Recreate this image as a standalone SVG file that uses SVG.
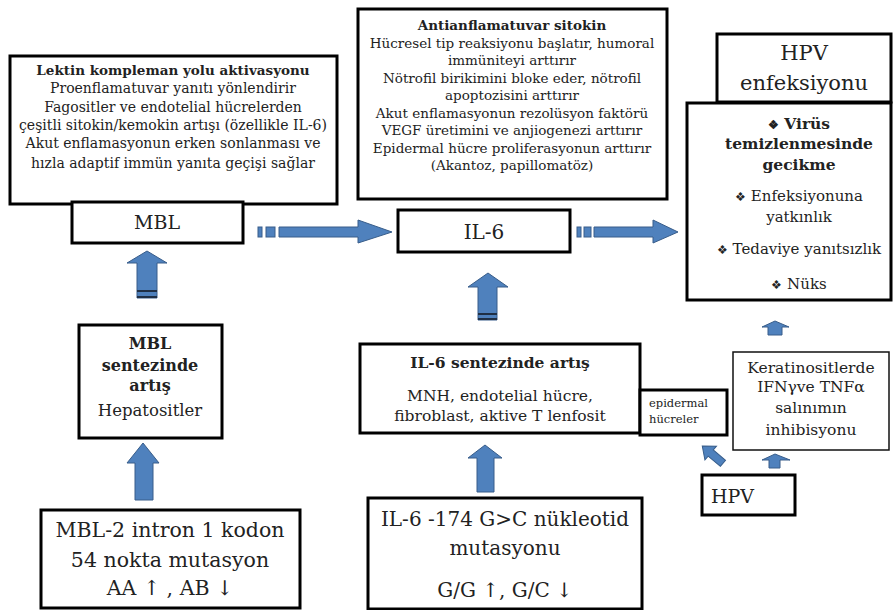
<svg xmlns="http://www.w3.org/2000/svg" width="894" height="610" viewBox="0 0 894 610" font-family="'DejaVu Serif', 'Liberation Serif', serif">
<style>
text{text-anchor:middle;fill:#222}
.b{font-weight:bold}
.box{fill:#fff;stroke:#000;stroke-width:3}
.thin{fill:#fff;stroke:#111;stroke-width:1.5}
.ar{fill:#4F81BD;stroke:#385D8A;stroke-width:1}
.st{stroke:#1f2f45;stroke-width:2}
</style>
<rect width="894" height="610" fill="#fff"/>
<g id="lektin">
<rect class="box" x="10" y="56" width="327" height="148"/>
<text x="173" y="75" font-size="13.5" class="b">Lektin kompleman yolu aktivasyonu</text>
<text x="173" y="93" font-size="14">Proenflamatuvar yanıtı yönlendirir</text>
<text x="173" y="112" font-size="14">Fagositler ve endotelial hücrelerden</text>
<text x="173" y="130" font-size="14">çeşitli sitokin/kemokin artışı (özellikle IL-6)</text>
<text x="173" y="148" font-size="14">Akut enflamasyonun erken sonlanması ve</text>
<text x="173" y="168" font-size="14">hızla adaptif immün yanıta geçişi sağlar</text>
</g>
<g id="mbl">
<rect class="box" x="72" y="202" width="171" height="41"/>
<text x="157" y="229" font-size="19">MBL</text>
</g>
<g id="anti">
<rect class="box" x="358" y="9" width="309" height="190"/>
<text x="512" y="30" font-size="13.5" class="b">Antianflamatuvar sitokin</text>
<text x="512" y="48" font-size="13.5">Hücresel tip reaksiyonu başlatır, humoral</text>
<text x="512" y="65" font-size="13.5">immüniteyi arttırır</text>
<text x="512" y="83" font-size="13.5">Nötrofil birikimini bloke eder, nötrofil</text>
<text x="512" y="100" font-size="13.5">apoptozisini arttırır</text>
<text x="512" y="118" font-size="13.5">Akut enflamasyonun rezolüsyon faktörü</text>
<text x="512" y="135" font-size="13.5">VEGF üretimini ve anjiogenezi arttırır</text>
<text x="512" y="153" font-size="13.5">Epidermal hücre proliferasyonun arttırır</text>
<text x="512" y="170" font-size="13.5">(Akantoz, papillomatöz)</text>
</g>
<g id="il6">
<rect class="box" x="398" y="210" width="172" height="42"/>
<text x="484" y="239" font-size="20">IL-6</text>
</g>
<g id="hpvenf">
<rect class="box" x="717" y="34" width="174" height="68"/>
<text x="804" y="60" font-size="21">HPV</text>
<text x="804" y="90" font-size="21">enfeksiyonu</text>
</g>
<g id="sonuc">
<rect class="box" x="687" y="103" width="204" height="197"/>
<text x="799" y="129" font-size="15.5" class="b"><tspan font-size="12">❖</tspan> Virüs</text>
<text x="799" y="149" font-size="15.5" class="b">temizlenmesinde</text>
<text x="799" y="170" font-size="15.5" class="b">gecikme</text>
<text x="799" y="201" font-size="15"><tspan font-size="12">❖</tspan> Enfeksiyonuna</text>
<text x="799" y="222" font-size="15">yatkınlık</text>
<text x="799" y="254" font-size="15"><tspan font-size="12">❖</tspan> Tedaviye yanıtsızlık</text>
<text x="799" y="289" font-size="15"><tspan font-size="12">❖</tspan> Nüks</text>
</g>
<g id="mblsentez">
<rect class="box" x="79" y="325" width="143" height="113"/>
<text x="150" y="349" font-size="16" class="b">MBL</text>
<text x="150" y="371" font-size="16" class="b">sentezinde</text>
<text x="150" y="391" font-size="16" class="b">artış</text>
<text x="150" y="416" font-size="16.5">Hepatositler</text>
</g>
<g id="mbl2">
<rect class="box" x="41" y="510" width="259" height="98"/>
<text x="170" y="537" font-size="20.5">MBL-2 intron 1 kodon</text>
<text x="170" y="567" font-size="20.5">54 nokta mutasyon</text>
<text x="170" y="595" font-size="20.5">AA ↑ , AB ↓</text>
</g>
<g id="il6sentez">
<rect class="box" x="360" y="344" width="280" height="89"/>
<text x="500" y="368" font-size="15.5" class="b">IL-6 sentezinde artış</text>
<text x="500" y="401" font-size="15.5">MNH,  endotelial hücre,</text>
<text x="500" y="421" font-size="15.5">fibroblast, aktive T lenfosit</text>
</g>
<g id="epidermal">
<rect class="box" x="640" y="390" width="87" height="45"/>
<text x="649" y="407" font-size="11.5" style="text-anchor:start">epidermal</text>
<text x="649" y="423" font-size="11.5" style="text-anchor:start">hücreler</text>
</g>
<g id="il6mut">
<rect class="box" x="368" y="498" width="274" height="111"/>
<text x="505" y="526" font-size="20">IL-6 -174 G&gt;C nükleotid</text>
<text x="505" y="555" font-size="20">mutasyonu</text>
<text x="505" y="597" font-size="20">G/G ↑, G/C ↓</text>
</g>
<g id="kerat">
<rect class="thin" x="733" y="352" width="156" height="98"/>
<text x="811" y="373" font-size="15.5">Keratinositlerde</text>
<text x="811" y="392" font-size="15.5">IFNγve TNFα</text>
<text x="811" y="413" font-size="15.5">salınımın</text>
<text x="811" y="435" font-size="15.5">inhibisyonu</text>
</g>
<g id="hpv">
<rect class="box" x="702" y="475" width="93" height="40" stroke-width="4"/>
<text x="711" y="503" font-size="19" style="text-anchor:start">HPV</text>
</g>
<g id="connectors">
<rect class="ar" x="258" y="227" width="4" height="10"/>
<rect class="ar" x="266" y="227" width="9" height="10"/>
<polygon class="ar" points="279,227 358,227 358,220 392,232 358,243 358,237 279,237"/>
<rect class="ar" x="577" y="227" width="4" height="10"/>
<rect class="ar" x="584" y="227" width="7" height="10"/>
<polygon class="ar" points="594,227 653,227 653,220 678,232 653,243 653,237 594,237"/>
<polygon class="ar" points="147,251 167,263 157,263 157,298 137,298 137,263 127,263"/>
<line class="st" x1="137" y1="291" x2="157" y2="291"/>
<line class="st" x1="137" y1="297" x2="157" y2="297"/>
<polygon class="ar" points="143,443 159,463 153,463 153,500 135,500 135,463 127,463"/>
<polygon class="ar" points="488,273 508,287 497,287 497,320 478,320 478,287 468,287"/>
<line class="st" x1="478" y1="314" x2="497" y2="314"/>
<line class="st" x1="478" y1="319" x2="497" y2="319"/>
<polygon class="ar" points="485,445 502,458 494,458 494,492 477,492 477,458 468,458"/>
<polygon class="ar" points="775,321 789,327 782,327 782,335 768,335 768,327 762,327"/>
<polygon class="ar" points="775,454 790,460 780,460 780,468 769,468 769,460 762,460"/>
<polygon class="ar" points="0,-14 9,-3 4,-3 4,13 -4,13 -4,-3 -9,-3" transform="translate(713,455) rotate(-50)"/>
</g>
</svg>
